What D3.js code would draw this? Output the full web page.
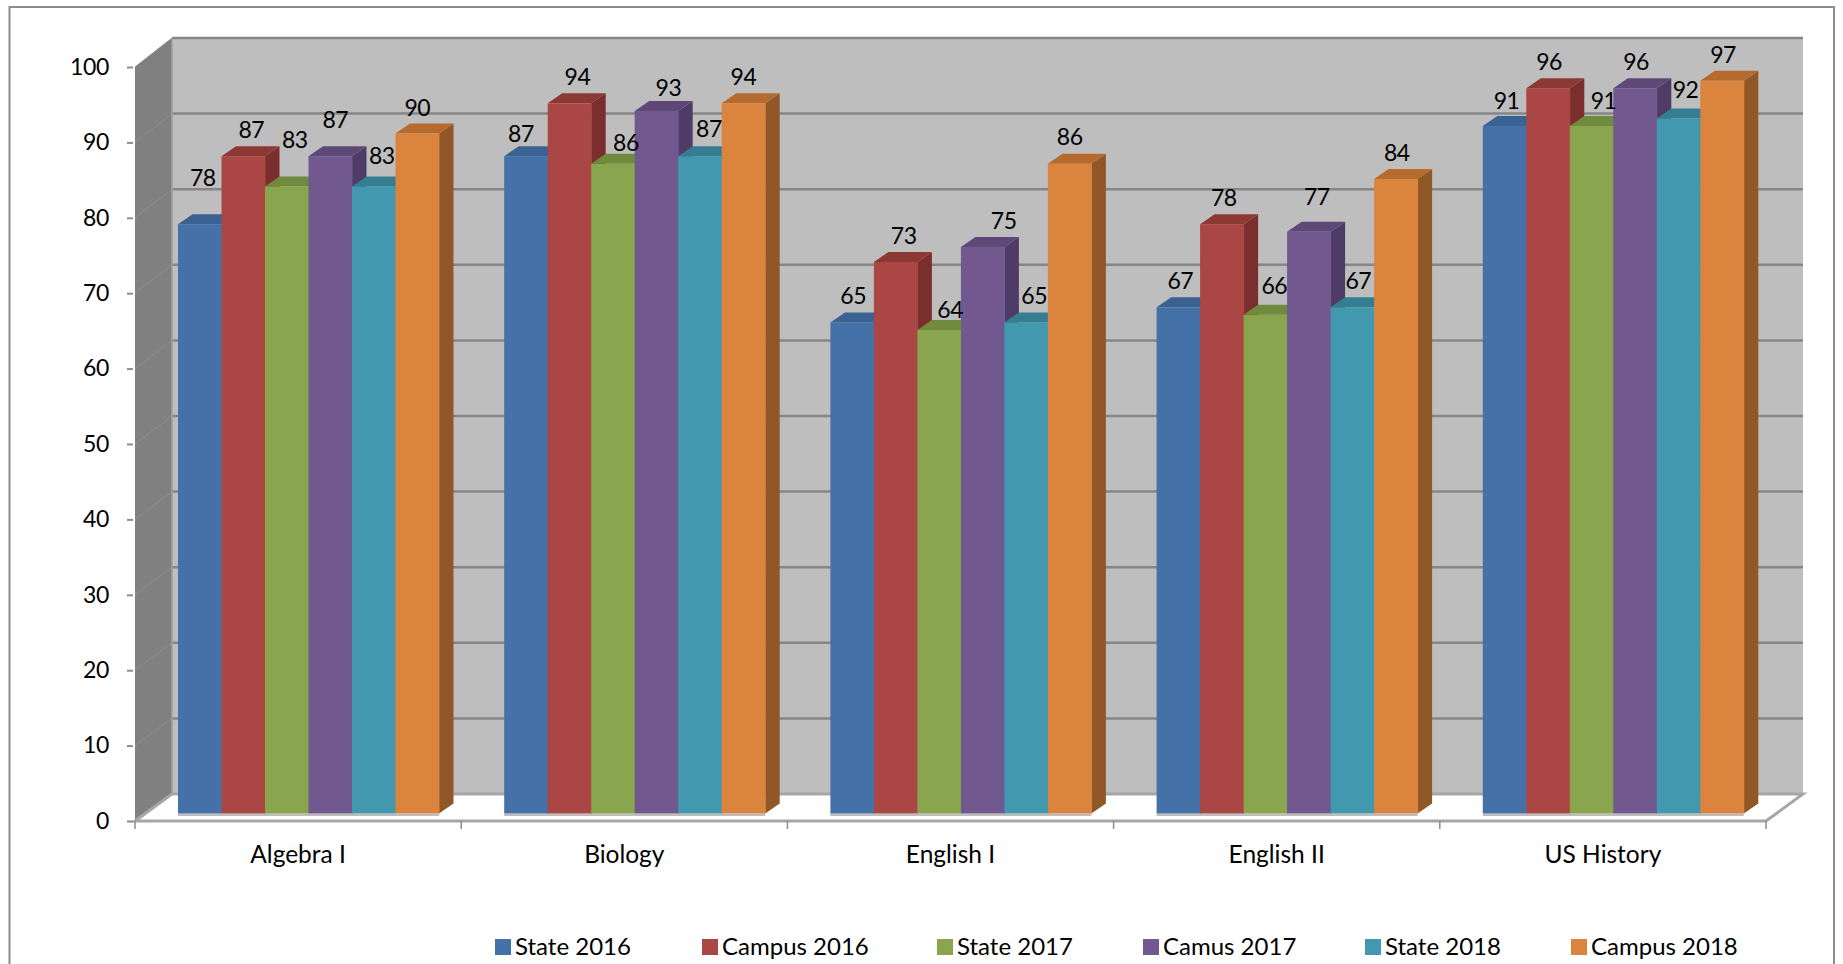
<!DOCTYPE html>
<html>
<head>
<meta charset="utf-8">
<script src="https://d3js.org/d3.v7.min.js"></script>
<style>
  body { margin: 0; background: #fff; }
  text { font-family: Lato, "Open Sans", sans-serif; fill: #000; }
</style>
</head>
<body>
<div id="graph"></div>
<script>
const subjects = ["Algebra I", "Biology", "English I", "English II", "US History"]
const seriesNames = ["State 2016", "Campus 2016", "State 2017", "Camus 2017", "State 2018", "Campus 2018"]
const state2016 = [78, 87, 65, 67, 91]
const campus2016 = [87, 94, 73, 78, 96]
const state2017 = [83, 86, 64, 66, 91]
const camus2017 = [87, 93, 75, 77, 96]
const state2018 = [83, 87, 65, 67, 92]
const campus2018 = [90, 94, 86, 84, 97]
const yTicks = [0, 10, 20, 30, 40, 50, 60, 70, 80, 90, 100]

const allSeries = [state2016, campus2016, state2017, camus2017, state2018, campus2018]

// front, side and top colour of each series
const colors = [
  ["#4472a8", "#365d8c", "#3a6292"],
  ["#aa4643", "#7a2f2e", "#8c3835"],
  ["#89a54e", "#6a8038", "#708a3e"],
  ["#71588f", "#4f3c66", "#5e4878"],
  ["#4198af", "#2f7386", "#357e92"],
  ["#db843d", "#8f5826", "#b56a2e"]
]

// excel pushed the data labels around, so each one has its own nudge from the bar
const labelNudgeX = [
  [3, 8, 8, 5, 8, 0], [-5, 8, 13, 12, 9, 0], [1, 8, 11, 21, 8, 0], [2, 2, 9, 8, 6, 1], [2, 1, 12, 1, 7, 1]
]
const labelNudgeY = [
  [-46, -26, -46, -36, -30, -26], [-22, -26, -21, -23, -27, -26], [-26, -26, -20, -26, -26, -27],
  [-26, -26, -29, -35, -26, -26], [-25, -26, -25, -26, -28, -26]
]
const legendX = [495, 702, 937, 1143, 1365, 1571]

const svg = d3.select("#graph")
  .append("svg")
    .attr("width", 1843)
    .attr("height", 964)
    .style("display", "block")

const x0 = 135, x1 = 1766
const wallDx = 37

const yFront = d3.scaleLinear().domain([0, 100]).range([821, 67])
const yBack = d3.scaleLinear().domain([0, 100]).range([794, 38])
const yBar = d3.scaleLinear().domain([0, 100]).range([813.5, 58])

const xGroup = d3.scaleBand().domain(subjects).range([x0, x1])
const xBar = d3.scaleBand().domain(d3.range(seriesNames.length)).range([43, 304])

const barDepthX = 14.5, barDepthY = 10

const poly = (pts) => pts.map((p) => p.join(",")).join(" ")

// outer frame, open at the bottom
svg.append("path")
  .attr("d", "M9.5,964V7H1834V964")
  .attr("fill", "none")
  .attr("stroke", "#8c8c8c")
  .attr("stroke-width", 2)

// walls
svg.append("rect")
  .attr("x", x0 + wallDx)
  .attr("y", yBack(100))
  .attr("width", x1 - x0)
  .attr("height", yBack(0) - yBack(100))
  .attr("fill", "#bebebe")

svg.append("polygon")
  .attr("points", poly([[x0, yFront(0)], [x0, yFront(100)], [x0 + wallDx, yBack(100)], [x0 + wallDx, yBack(0)]]))
  .attr("fill", "#808080")

// gridlines on the back wall and the side wall
svg.append("g").selectAll("line")
  .data(yTicks.filter((d) => d > 0))
  .join("line")
    .attr("x1", x0 + wallDx)
    .attr("x2", x1 + wallDx)
    .attr("y1", (d) => yBack(d))
    .attr("y2", (d) => yBack(d))
    .attr("stroke", "#868686")
    .attr("stroke-width", 2.5)

svg.append("g").selectAll("line")
  .data(yTicks.filter((d) => d > 0))
  .join("line")
    .attr("x1", x0)
    .attr("x2", x0 + wallDx)
    .attr("y1", (d) => yFront(d))
    .attr("y2", (d) => yBack(d))
    .attr("stroke", "#8e8e8e")
    .attr("stroke-width", 1)

// floor, closed so the front edge gets its line too
svg.append("path")
  .attr("d", `M${x0},${yFront(0)}L${x0 + wallDx},${yBack(0)}H${x1 + wallDx}L${x1},${yFront(0)}Z`)
  .attr("fill", "#fff")
  .attr("stroke", "#a6a6a6")
  .attr("stroke-width", 3)

svg.append("line")
  .attr("x1", x0 + wallDx)
  .attr("x2", x0 + wallDx)
  .attr("y1", yBack(100))
  .attr("y2", yBack(0))
  .attr("stroke", "#a0a0a0")
  .attr("stroke-width", 1.5)

// bars, left to right so each one covers the side of the one before
const groups = svg.append("g").selectAll("g")
  .data(subjects)
  .join("g")
    .attr("transform", (d) => `translate(${xGroup(d)},0)`)

groups.each(function(subject, g) {
  const group = d3.select(this)
  const w = xBar.bandwidth()

  group.append("rect")
    .attr("x", xBar(0))
    .attr("y", yBar(0))
    .attr("width", xBar.step() * seriesNames.length)
    .attr("height", 2.5)
    .attr("fill", "#bdbdbd")

  allSeries.forEach((values, s) => {
    const left = xBar(s)
    const top = yBar(values[g])
    const bottom = yBar(0)

    group.append("polygon")
      .attr("points", poly([[left + w, top], [left + w + barDepthX, top - barDepthY], [left + w + barDepthX, bottom - barDepthY], [left + w, bottom]]))
      .attr("fill", colors[s][1])

    group.append("polygon")
      .attr("points", poly([[left, top], [left + barDepthX, top - barDepthY], [left + w + barDepthX, top - barDepthY], [left + w, top]]))
      .attr("fill", colors[s][2])

    group.append("rect")
      .attr("x", left)
      .attr("y", top)
      .attr("width", w + 0.5)
      .attr("height", bottom - top)
      .attr("fill", colors[s][0])
  })
})

// data labels go on top of everything
groups.each(function(subject, g) {
  const group = d3.select(this)
  allSeries.forEach((values, s) => {
    group.append("text")
      .attr("x", xBar(s) + xBar.bandwidth() / 2 + labelNudgeX[g][s])
      .attr("y", yBar(values[g]) + labelNudgeY[g][s])
      .attr("dy", "0.35em")
      .attr("text-anchor", "middle")
      .style("font-size", "23px")
      .style("letter-spacing", "-0.5px")
      .text(values[g])
  })
})

// axes
const yAxis = svg.append("g")
  .attr("transform", `translate(${x0 - 2},0)`)
  .call(d3.axisLeft(yFront).tickValues(yTicks).tickSize(6).tickPadding(18))
yAxis.select(".domain").remove()
yAxis.selectAll("line").attr("stroke", "#8c8c8c").attr("stroke-width", 2)
yAxis.selectAll("text").style("font-size", "23px").style("font-family", "Lato").style("letter-spacing", "-0.3px")

const xAxis = svg.append("g")
  .attr("transform", `translate(0,${yFront(0) + 1})`)
  .call(d3.axisBottom(xGroup).tickSize(0).tickPadding(24))
xAxis.select(".domain").remove()
xAxis.selectAll("text").style("font-size", "24.5px").style("font-family", "Lato")

svg.append("g").selectAll("line")
  .data(subjects.map((d) => xGroup(d)).concat([x1]))
  .join("line")
    .attr("x1", (d) => d)
    .attr("x2", (d) => d)
    .attr("y1", yFront(0))
    .attr("y2", yFront(0) + 8)
    .attr("stroke", "#8c8c8c")
    .attr("stroke-width", 1.5)

// legend
const legend = svg.append("g").selectAll("g")
  .data(seriesNames)
  .join("g")
    .attr("transform", (d, i) => `translate(${legendX[i]},947)`)

legend.append("rect")
  .attr("y", -8)
  .attr("width", 16)
  .attr("height", 16)
  .attr("fill", (d, i) => colors[i][0])

legend.append("text")
  .attr("x", 20)
  .attr("dy", "0.35em")
  .style("font-size", "24px")
  .text((d) => d)
</script>
</body>
</html>
